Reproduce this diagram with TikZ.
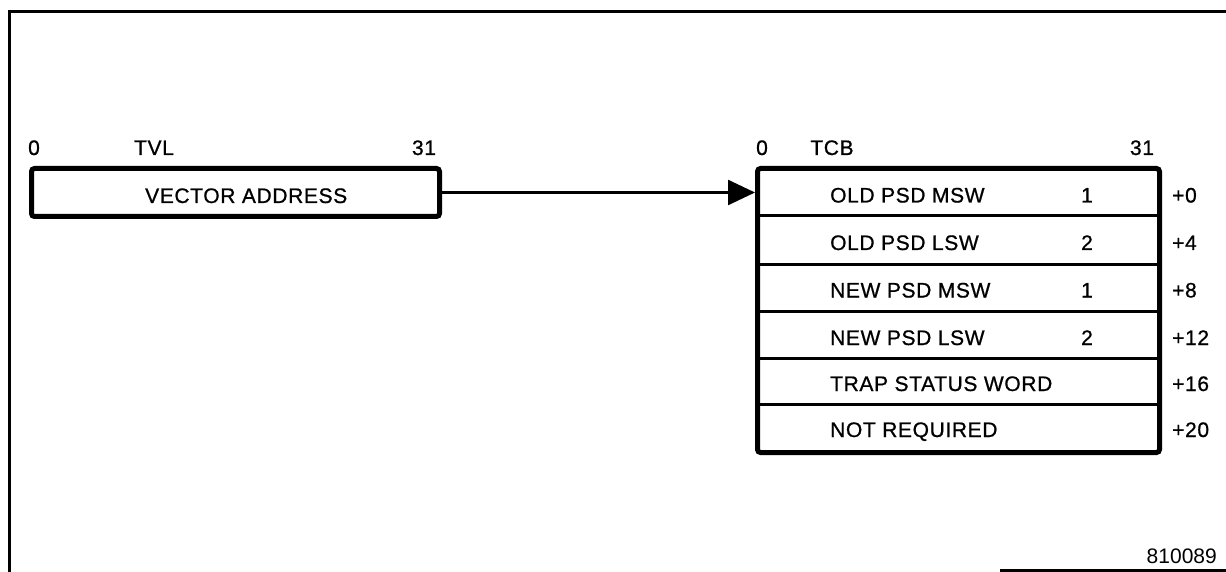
\documentclass[tikz,border=0pt]{standalone}
\usepackage{fontspec}
\setmainfont{Liberation Sans}
\newfontfamily\diagfont{Liberation Sans}[LetterSpace=3, FakeBold=0.8]
\usetikzlibrary{arrows.meta}
\begin{document}
\begin{tikzpicture}[x=1pt,y=-1pt,
  every node/.style={font=\diagfont\fontsize{21}{25}\selectfont, inner sep=0pt},
  frame/.style={line width=3pt},
  bigbox/.style={draw, line width=5pt, rounded corners=3pt, anchor=north west},
  sep/.style={line width=3pt},
  lbl/.style={anchor=base},
  rowtxt/.style={anchor=base west},
  conn/.style={line width=2.5pt, -{Triangle[length=27pt,width=25pt]}}]
\useasboundingbox (0,0) rectangle (1226,572);
% outer frame
\coordinate (fTL) at (9,12);
\coordinate (fTR) at (1226,12);
\coordinate (fBL) at (9,572);
\coordinate (bA) at (1000,570);
\coordinate (bB) at (1226,570);
\draw[frame] (fTR) -- (fTL) -- (fBL);
\draw[frame] (bA) -- (bB);
% TVL
\node[lbl] (tvl0) at (34,155) {0};
\node[lbl] (tvlname) at (154,155) {TVL};
\node[lbl] (tvl31) at (424,155) {31};
\node[bigbox, minimum width=408pt, minimum height=48pt] (tvl) at (29,166) {};
\node[anchor=base west] (va) at (145,203) {VECTOR ADDRESS};
% TCB
\node[lbl] (tcb0) at (762,155) {0};
\node[lbl] (tcbname) at (832,155) {TCB};
\node[lbl] (tcb31) at (1142,155) {31};
\node[bigbox, minimum width=402pt, minimum height=284pt] (tcb) at (755,166) {};
\foreach \y in {216,264,311,358,404}{
  \draw[sep] (755,\y) -- (1157,\y);
}
\node[rowtxt] (t1) at (830,202.5) {OLD PSD MSW};
\node[rowtxt] (t2) at (830,250) {OLD PSD LSW};
\node[rowtxt] (t3) at (830,297.5) {NEW PSD MSW};
\node[rowtxt] (t4) at (830,345) {NEW PSD LSW};
\node[rowtxt] (t5) at (830,391) {TRAP STATUS WORD};
\node[rowtxt] (t6) at (830,437) {NOT REQUIRED};
\node[lbl] (n1) at (1087,202.5) {1};
\node[lbl] (n2) at (1087,250) {2};
\node[lbl] (n3) at (1087,297.5) {1};
\node[lbl] (n4) at (1087,345) {2};
\node[rowtxt] (o1) at (1172,202.5) {+0};
\node[rowtxt] (o2) at (1172,250) {+4};
\node[rowtxt] (o3) at (1172,297.5) {+8};
\node[rowtxt] (o4) at (1172,345) {+12};
\node[rowtxt] (o5) at (1172,391) {+16};
\node[rowtxt] (o6) at (1172,437) {+20};
\node[anchor=base east, font=\rmfamily\fontsize{21}{25}\selectfont] (fig) at (1217,563) {810089};
% connector
\draw[conn] (tvl.east) -- (tvl.east -| tcb.west);
\end{tikzpicture}
\end{document}
